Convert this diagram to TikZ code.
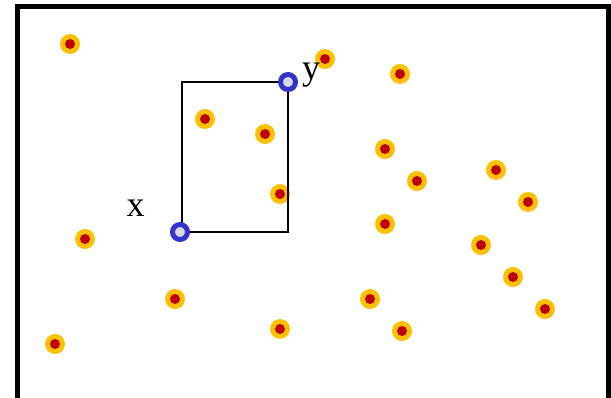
\documentclass[tikz,border=0pt]{standalone}
\usepackage{fontspec}
\setmainfont{Liberation Serif}
\begin{document}
\begin{tikzpicture}[x=1pt,y=-1pt,
  pt/.style={circle,fill=ptyellow,draw=none,minimum size=20pt,inner sep=0pt,path picture={\fill[ptred] (path picture bounding box.center) circle (5pt);}},
  bpt/.style={circle,fill=bluein,draw=blueout,line width=5pt,minimum size=15pt,inner sep=0pt},
  lbl/.style={font=\fontsize{36}{36}\selectfont,inner sep=0pt}]
\definecolor{ptyellow}{RGB}{255,192,0}
\definecolor{ptred}{RGB}{192,0,0}
\definecolor{blueout}{RGB}{51,51,204}
\definecolor{bluein}{RGB}{216,216,240}
\useasboundingbox (0,0) rectangle (611,398);
\draw[line width=5pt] (17.5,6.5) rectangle (608,400.5);
\foreach \x/\y [count=\i] in {70/44,325/59,400/74,205/119,265/134,385/149,417/181,496/170,528/202,280/194,385/224,85/239,481/245,513/277,545/309,175/299,370/299,402/331,280/329,55/344}
  \node[pt] (p\i) at (\x,\y) {};
\coordinate (c1) at (182,82);
\coordinate (c2) at (288,232);
\draw[line width=2.2pt] (c1) rectangle (c2);
\node[bpt] (bx) at (180,232) {};
\node[bpt] (by) at (288,82) {};
\node[lbl,anchor=base] (lx) at (135.5,217) {x};
\node[lbl,anchor=base] (ly) at (311,80) {y};
\end{tikzpicture}
\end{document}
